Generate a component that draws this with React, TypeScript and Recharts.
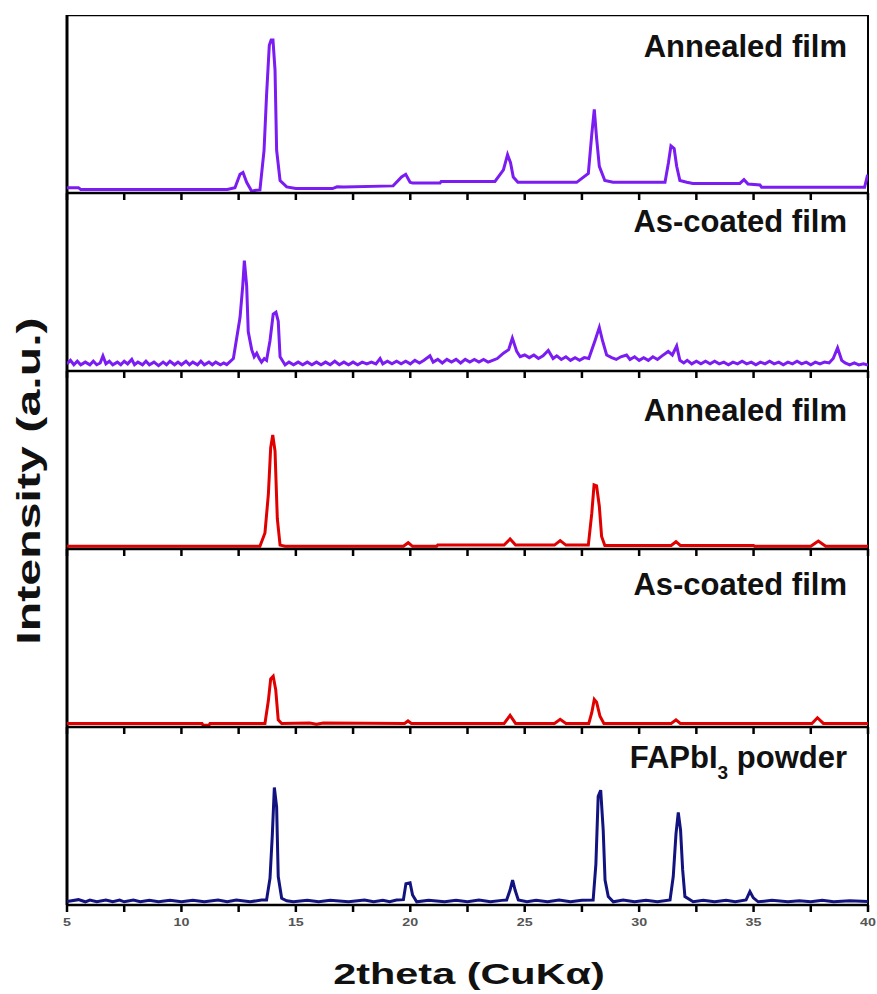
import { LineChart, Line, XAxis, YAxis, ReferenceLine } from 'recharts';

// 2theta (deg) vs intensity (0..100 of each panel's height)
const annealedPurple = [
  [5, 3], [5.5, 3], [5.6, 2], [8, 2], [10, 2], [12.0, 2], [12.34, 3], [12.56, 10.5], [12.69, 11.5],
  [12.85, 6], [13.07, 1], [13.25, 1.5], [13.43, 1.7], [13.61, 24], [13.72, 55], [13.84, 83], [13.92, 86],
  [14.0, 86], [14.09, 69], [14.16, 24], [14.31, 7], [14.6, 3.4], [15, 2.5], [16.6, 2.5], [16.8, 3.5],
  [17.1, 3.4], [19.25, 4], [19.62, 9], [19.8, 10.5], [19.99, 6], [20.1, 5.6], [21.3, 5.6], [21.35, 6.5],
  [23.7, 6.5], [24.07, 13], [24.25, 21.5], [24.38, 17], [24.5, 9], [24.7, 6], [27.27, 6], [27.78, 11],
  [27.93, 33], [28.04, 47], [28.14, 31], [28.26, 15], [28.5, 7], [28.86, 6], [31.13, 6], [31.28, 17],
  [31.39, 26.5], [31.53, 25], [31.64, 15], [31.78, 7], [32.08, 6], [32.35, 5.4], [34.4, 5.4], [34.58, 7.5],
  [34.76, 5], [35.28, 4.5], [35.35, 3.2], [39.85, 3.2], [39.97, 9.5], [40, 9.5],
];

const asCoatedPurple = [
  [5, 4], [5.15, 6], [5.3, 3.5], [5.45, 5.5], [5.6, 3.5], [5.8, 5], [6.0, 3.5], [6.15, 5.5], [6.3, 3.5],
  [6.45, 4.5], [6.57, 8.5], [6.7, 4], [6.85, 5.5], [7.0, 3.5], [7.2, 5], [7.35, 3.5], [7.5, 5.5], [7.65, 4],
  [7.83, 6.5], [7.95, 3.5], [8.1, 5], [8.3, 3.5], [8.45, 5.5], [8.6, 3.5], [8.8, 5], [9.0, 3], [9.2, 5],
  [9.35, 3.5], [9.5, 5.5], [9.7, 3.5], [9.85, 5], [10.0, 3.5], [10.2, 5.5], [10.35, 3.5], [10.5, 5],
  [10.7, 3.5], [10.85, 5.5], [11.0, 3.5], [11.2, 5], [11.35, 3.5], [11.5, 5], [11.7, 3.5], [11.85, 4.5],
  [11.98, 3.6], [12.27, 7], [12.56, 30], [12.68, 48], [12.75, 62], [12.85, 48], [12.92, 22], [13.07, 12],
  [13.18, 8], [13.29, 10], [13.4, 7], [13.5, 5], [13.62, 7], [13.72, 6], [13.87, 17], [14.01, 32],
  [14.13, 33], [14.23, 28], [14.31, 8], [14.53, 3.4], [14.7, 5], [14.9, 3.5], [15.1, 5], [15.3, 3.5],
  [15.5, 5], [15.7, 3.5], [15.9, 5], [16.1, 3.5], [16.3, 5], [16.5, 3.5], [16.7, 5.5], [16.9, 3.5],
  [17.1, 5], [17.3, 3.5], [17.5, 5], [17.7, 3.5], [17.9, 5], [18.1, 4], [18.3, 5], [18.5, 4], [18.68, 7],
  [18.8, 4], [19.0, 5.5], [19.2, 4], [19.4, 5.5], [19.6, 4], [19.8, 5.5], [20.0, 4], [20.2, 6], [20.4, 4.5],
  [20.6, 6], [20.86, 8.5], [21.0, 5], [21.2, 6.5], [21.4, 4.5], [21.6, 6.5], [21.8, 5], [22.0, 6.5],
  [22.2, 4.5], [22.4, 6.5], [22.6, 5], [22.8, 6.5], [23.0, 5], [23.2, 6.5], [23.4, 5], [23.6, 6],
  [23.8, 7], [24.07, 10], [24.3, 12], [24.46, 18.5], [24.65, 11], [24.8, 8], [25.0, 9], [25.2, 7.5],
  [25.4, 9], [25.6, 7], [25.8, 8.5], [26.03, 11.5], [26.24, 7], [26.4, 8.5], [26.6, 6.5], [26.8, 8],
  [27.0, 6], [27.2, 7.5], [27.4, 6], [27.6, 7.5], [27.8, 7], [28.07, 17], [28.26, 24.5], [28.4, 17],
  [28.58, 9], [28.8, 7.5], [29.0, 6.5], [29.2, 8], [29.45, 9], [29.6, 6.5], [29.8, 8], [30.0, 6],
  [30.2, 7.5], [30.4, 6], [30.6, 8], [30.8, 6.5], [31.0, 8.5], [31.27, 11], [31.45, 9], [31.64, 14],
  [31.78, 6], [31.95, 4.5], [32.1, 6], [32.3, 4], [32.5, 5.5], [32.7, 4], [32.9, 5.5], [33.1, 4],
  [33.3, 5.5], [33.5, 4], [33.7, 5], [33.9, 3.5], [34.1, 5], [34.3, 4], [34.5, 5.5], [34.7, 4], [34.9, 5],
  [35.1, 3.5], [35.3, 5], [35.5, 4], [35.7, 5.5], [35.9, 4], [36.1, 5], [36.3, 3.5], [36.5, 5], [36.7, 4],
  [36.9, 5.5], [37.1, 4], [37.3, 5], [37.5, 3.5], [37.7, 5], [37.9, 4], [38.1, 5], [38.3, 4.5], [38.48, 7],
  [38.67, 13], [38.85, 6], [39.0, 4.5], [39.2, 3.4], [39.4, 4.5], [39.6, 3.4], [39.8, 4], [40, 3.4],
];

const annealedRed = [
  [5, 1.5], [13.43, 1.5], [13.65, 9], [13.8, 31], [13.9, 57], [13.99, 64], [14.09, 55], [14.19, 17],
  [14.31, 2.2], [14.53, 1.5], [19.7, 1.5], [19.91, 3.5], [20.1, 1.5], [21.15, 1.5], [21.2, 2.2], [24.1, 2.2],
  [24.36, 5.6], [24.6, 2.2], [26.3, 2.2], [26.55, 4.7], [26.8, 2.2], [27.78, 2.2], [27.93, 20], [28.03, 36],
  [28.14, 35.5], [28.26, 24], [28.36, 7], [28.5, 2], [31.4, 2], [31.61, 4.1], [31.8, 2], [35, 2], [35.05, 1.5],
  [37.5, 1.5], [37.83, 4.5], [38.15, 1.5], [40, 1.5],
];

const asCoatedRed = [
  [5, 2], [10.9, 2], [10.95, 1], [11.2, 1], [11.25, 2], [13.65, 2], [13.8, 15], [13.9, 27], [14.01, 28.5],
  [14.12, 21], [14.23, 4], [14.38, 2], [15.6, 2.3], [15.9, 1.6], [16.2, 2.3], [19.75, 2], [19.9, 3.4],
  [20.05, 2], [24.1, 2], [24.36, 6.5], [24.6, 2], [26.3, 2], [26.55, 4.3], [26.8, 2], [27.8, 2], [27.93, 8],
  [28.04, 15.5], [28.14, 14], [28.29, 6], [28.46, 2], [31.4, 2], [31.61, 4], [31.8, 2], [37.55, 2],
  [37.79, 5.2], [38.05, 2], [40, 2],
];

const powderNavy = [
  [5, 2], [5.5, 3], [5.8, 1.8], [6.0, 2.8], [6.3, 1.8], [6.7, 2.8], [7.0, 1.8], [7.3, 2.8], [7.5, 1.8],
  [7.9, 2.8], [8.2, 1.8], [8.6, 2.6], [9.0, 1.8], [9.5, 2.6], [10.0, 1.8], [10.5, 2.6], [11.0, 1.8],
  [11.6, 2.8], [12.0, 1.8], [12.4, 2.8], [13.0, 1.8], [13.5, 2.8], [13.72, 2.8], [13.87, 15], [13.97, 39],
  [14.06, 66], [14.16, 55], [14.23, 16], [14.38, 3.8], [14.6, 2.4], [14.89, 1.8], [15.5, 2.6], [16.0, 1.8],
  [16.5, 2.6], [17.3, 1.8], [18.0, 2.8], [18.4, 1.8], [18.8, 2.6], [19.1, 1.8], [19.4, 2.8], [19.7, 3],
  [19.81, 12], [19.99, 12.5], [20.1, 5.6], [20.28, 1.8], [20.8, 2.6], [21.5, 1.8], [22.0, 2.6], [22.5, 1.8],
  [23.0, 2.8], [23.5, 1.8], [24.0, 2.6], [24.21, 2.8], [24.36, 8.4], [24.47, 14], [24.58, 8.4], [24.72, 2.8],
  [25.1, 1.8], [25.5, 2.6], [26.0, 1.8], [26.5, 2.8], [27.0, 1.8], [27.5, 2.6], [27.99, 2.8], [28.11, 23],
  [28.21, 61], [28.32, 64.5], [28.43, 42], [28.51, 14], [28.65, 4.7], [28.87, 1.8], [29.3, 2.8], [29.8, 1.8],
  [30.3, 2.6], [30.8, 1.8], [31.35, 2.8], [31.49, 16], [31.61, 40], [31.71, 52], [31.81, 42], [31.9, 20],
  [32.0, 4.7], [32.36, 1.8], [32.8, 2.6], [33.3, 1.8], [33.8, 2.6], [34.2, 1.8], [34.67, 2.8], [34.84, 7.5],
  [34.99, 4], [35.2, 1.8], [35.8, 2.6], [36.5, 1.8], [37.0, 2.4], [37.5, 1.8], [38.0, 2.6], [38.5, 1.8],
  [39.2, 2.4], [40, 1.9],
];

const xTicks = [5, 7.5, 10, 12.5, 15, 17.5, 20, 22.5, 25, 27.5, 30, 32.5, 35, 37.5, 40];

const panels = [
  { data: annealedPurple, color: '#7a1cf2', title: 'Annealed film' },
  { data: asCoatedPurple, color: '#7a1cf2', title: 'As-coated film' },
  { data: annealedRed, color: '#e00000', title: 'Annealed film' },
  { data: asCoatedRed, color: '#e00000', title: 'As-coated film' },
  { data: powderNavy, color: '#12137e', title: 'FAPbI|3| powder' },
];

const W = 877;
const PLOT_TOP = 15;
const PANEL_H = 178;
const TICK_SIZE = 7;
const TICK_MARGIN = 6;
const FONT = '"Liberation Sans", Arial, sans-serif';
// cap-top of each panel title, relative to the panel top
const titleTops = [20, 17, 28, 24, 19];

// draws the tick mark itself, plus a label on the multiples of 5 for the bottom panel
function Tick({ x, y, payload, withLabel }: any) {
  const y0 = y - TICK_MARGIN - TICK_SIZE;
  return (
    <g>
      <line x1={x} x2={x} y1={y0} y2={y0 + TICK_SIZE} stroke="#000" strokeWidth={2.5} />
      {withLabel && payload.value % 5 === 0 && (
        <g transform={`translate(${x},${y})`}>
          <text
            x={0}
            y={0}
            dy="0.71em"
            textAnchor="middle"
            transform="scale(1.3,1)"
            fontSize={11}
            fontWeight="bold"
            fill="#555"
            fontFamily={FONT}
          >
            {payload.value}
          </text>
        </g>
      )}
    </g>
  );
}

function PanelTitle({ title, index }: { title: string; index: number }) {
  const [main, sub, rest] = title.split('|');
  return (
    <div
      style={{
        position: 'absolute',
        right: W - 847,
        top: PLOT_TOP + index * PANEL_H + titleTops[index] - 4,
        fontFamily: FONT,
        fontWeight: 'bold',
        fontSize: 31,
        lineHeight: '31px',
        color: '#111',
        whiteSpace: 'nowrap',
      }}
    >
      {main}
      {sub && (
        <span style={{ fontSize: 19, position: 'relative', top: 11 }}>{sub}</span>
      )}
      {rest}
    </div>
  );
}

function Panel({ index }: { index: number }) {
  const { data, color } = panels[index];
  const last = index === panels.length - 1;
  const axisH = last ? 40 : 12;
  const rows = data.map(([x, y]) => ({ x, y }));
  return (
    <div style={{ position: 'absolute', left: 0, top: PLOT_TOP + index * PANEL_H }}>
      <LineChart
        width={W}
        height={PANEL_H + axisH}
        data={rows}
        margin={{ top: 0, right: W - 868, bottom: 0, left: 67 }}
      >
        <XAxis
          dataKey="x"
          type="number"
          domain={[5, 40]}
          ticks={xTicks}
          interval={0}
          allowDataOverflow
          height={axisH}
          tickSize={TICK_SIZE}
          tickMargin={TICK_MARGIN}
          axisLine={{ stroke: '#000', strokeWidth: 2.5 }}
          tickLine={false}
          tick={<Tick withLabel={last} />}
        />
        <YAxis hide domain={[0, 100]} allowDataOverflow />
        <ReferenceLine x={5} stroke="#000" strokeWidth={3} />
        <ReferenceLine x={40} stroke="#000" strokeWidth={2} />
        {index === 0 && <ReferenceLine y={100} stroke="#000" strokeWidth={2.5} />}
        <Line
          type="linear"
          dataKey="y"
          stroke={color}
          strokeWidth={3}
          dot={false}
          isAnimationActive={false}
        />
      </LineChart>
    </div>
  );
}

export default function App() {
  return (
    <div
      style={{
        position: 'absolute',
        left: 0,
        top: 0,
        width: W,
        height: 994,
        background: '#fff',
        overflow: 'hidden',
      }}
    >
      {panels.map((p, i) => (
        <Panel key={i} index={i} />
      ))}
      {panels.map((p, i) => (
        <PanelTitle key={'t' + i} title={p.title} index={i} />
      ))}

      {/* y axis title */}
      <div
        style={{
          position: 'absolute',
          left: 28 - 200,
          top: 481 - 20,
          width: 400,
          height: 40,
          lineHeight: '40px',
          textAlign: 'center',
          fontFamily: FONT,
          fontWeight: 'bold',
          fontSize: 34,
          color: '#111',
          transform: 'rotate(-90deg) scaleX(1.42)',
          whiteSpace: 'nowrap',
        }}
      >
        Intensity (a.u.)
      </div>

      {/* x axis title */}
      <div
        style={{
          position: 'absolute',
          left: 469 - 200,
          top: 959,
          width: 400,
          lineHeight: '30px',
          textAlign: 'center',
          fontFamily: FONT,
          fontWeight: 'bold',
          fontSize: 30,
          color: '#111',
          transform: 'scaleX(1.38)',
          whiteSpace: 'nowrap',
        }}
      >
        2theta (CuKα)
      </div>
    </div>
  );
}
